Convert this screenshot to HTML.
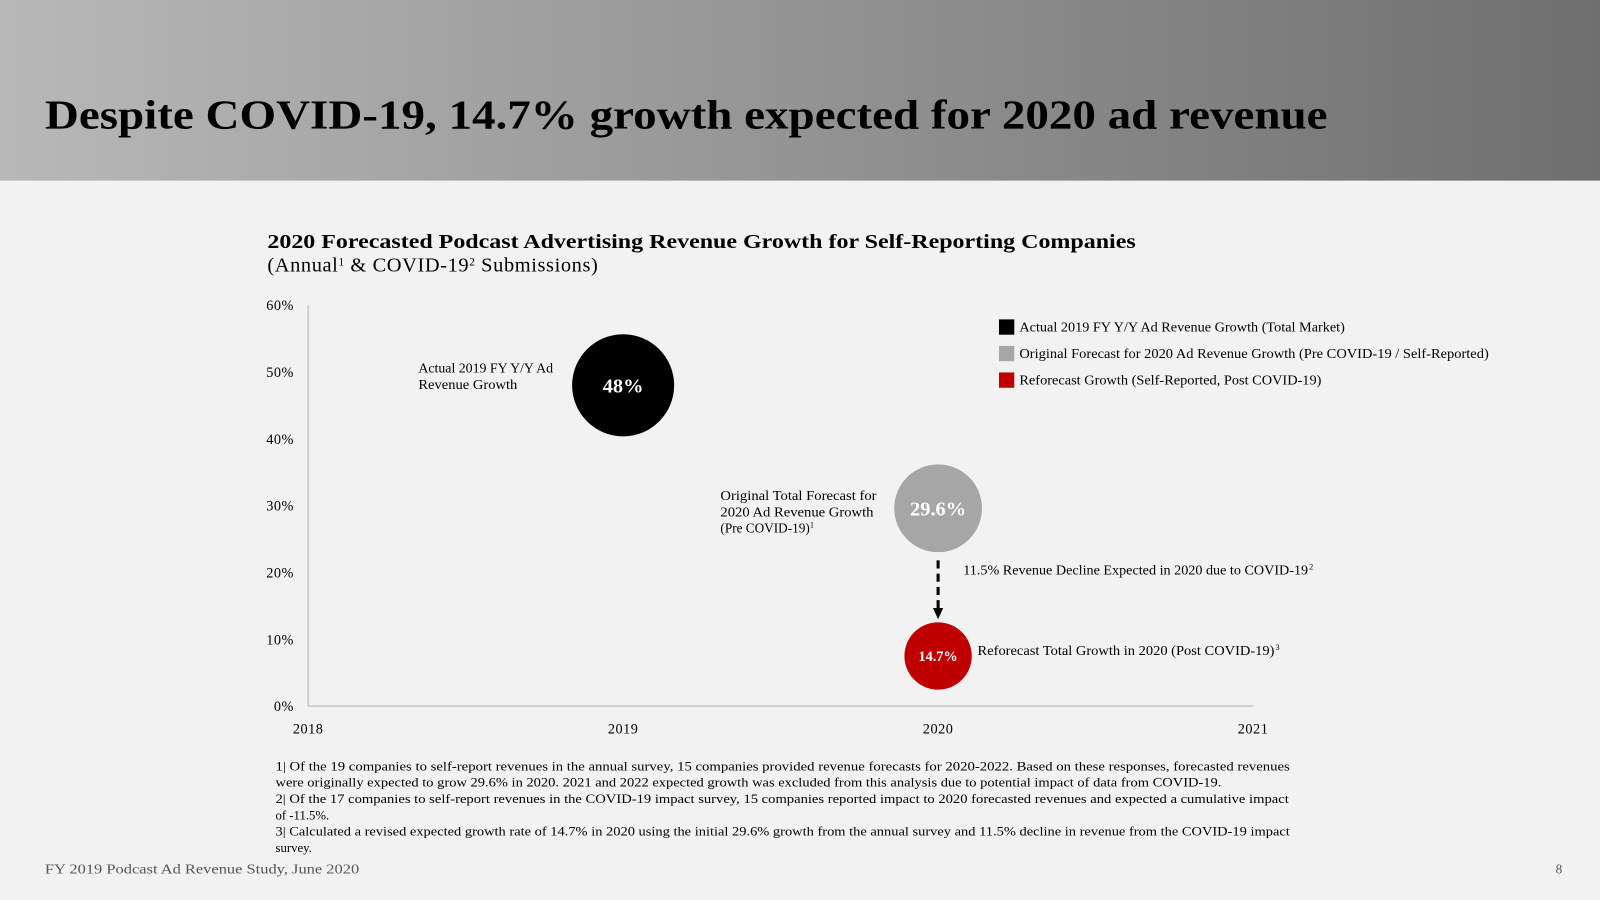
<!DOCTYPE html>
<html><head><meta charset="utf-8"><style>
html,body{margin:0;padding:0;width:1600px;height:900px;overflow:hidden;background:#f2f2f2;}
svg{display:block;font-family:"Liberation Serif",serif;}
</style></head><body>
<svg width="1600" height="900" viewBox="0 0 1568 882" xmlns="http://www.w3.org/2000/svg">
<defs><linearGradient id="hg" x1="0" x2="1" y1="0" y2="0"><stop offset="0" stop-color="#b8b8b8"/><stop offset="1" stop-color="#6f6f6f"/></linearGradient>
<marker id="ah" markerUnits="userSpaceOnUse" markerWidth="12" markerHeight="12" refX="6" refY="6" orient="auto"><path d="M0,1 L11,6 L0,11 z" fill="#000"/></marker></defs>
<rect x="0" y="0" width="1568" height="882" fill="#f2f2f2"/>
<rect x="0" y="0" width="1568" height="177" fill="url(#hg)"/>
<text x="44" y="126" font-size="40" font-weight="bold" fill="#000" textLength="1257" lengthAdjust="spacingAndGlyphs">Despite COVID-19, 14.7% growth expected for 2020 ad revenue</text>
<text x="262" y="243" font-size="20" font-weight="bold" textLength="851" lengthAdjust="spacingAndGlyphs">2020 Forecasted Podcast Advertising Revenue Growth for Self-Reporting Companies</text>
<text x="262" y="266" font-size="20" letter-spacing="0.6">(Annual<tspan font-size="11" dy="-6">1</tspan><tspan dy="6"> &amp; COVID-19</tspan><tspan font-size="11" dy="-6">2</tspan><tspan dy="6"> Submissions)</tspan></text>
<g id="chart"></g>
<g font-size="13">
<rect x="979" y="313" width="15" height="15" fill="#000"/>
<text x="999" y="325" textLength="319" lengthAdjust="spacingAndGlyphs">Actual 2019 FY Y/Y Ad Revenue Growth (Total Market)</text>
<rect x="979" y="339" width="15" height="15" fill="#a6a6a6"/>
<text x="999" y="351" textLength="460" lengthAdjust="spacingAndGlyphs">Original Forecast for 2020 Ad Revenue Growth (Pre COVID-19 / Self-Reported)</text>
<rect x="979" y="365" width="15" height="15" fill="#c00000"/>
<text x="999" y="377" textLength="296" lengthAdjust="spacingAndGlyphs">Reforecast Growth (Self-Reported, Post COVID-19)</text>
</g>
<g font-size="13">
<text x="410" y="365" textLength="132" lengthAdjust="spacingAndGlyphs">Actual 2019 FY Y/Y Ad</text>
<text x="410" y="381" textLength="97" lengthAdjust="spacingAndGlyphs">Revenue Growth</text>
<text x="706" y="490" textLength="153" lengthAdjust="spacingAndGlyphs">Original Total Forecast for</text>
<text x="706" y="506" textLength="150" lengthAdjust="spacingAndGlyphs">2020 Ad Revenue Growth</text>
<text x="706" y="522">(Pre COVID-19)<tspan font-size="8" dy="-5">1</tspan></text>
<text x="944" y="563" textLength="338" lengthAdjust="spacingAndGlyphs">11.5% Revenue Decline Expected in 2020 due to COVID-19</text>
<text x="1283" y="558" font-size="8">2</text>
<text x="958" y="642" textLength="291" lengthAdjust="spacingAndGlyphs">Reforecast Total Growth in 2020 (Post COVID-19)</text>
<text x="1250" y="637" font-size="8">3</text>
</g>
<g font-size="12.5">
<text x="270" y="755" textLength="994" lengthAdjust="spacingAndGlyphs">1| Of the 19 companies to self-report revenues in the annual survey, 15 companies provided revenue forecasts for 2020-2022. Based on these responses,  forecasted revenues</text>
<text x="270" y="771" textLength="927" lengthAdjust="spacingAndGlyphs">were originally expected to grow 29.6% in 2020. 2021 and 2022 expected growth was excluded from this analysis due to potential impact of data from COVID-19.</text>
<text x="270" y="787" textLength="993" lengthAdjust="spacingAndGlyphs">2| Of the 17 companies to self-report revenues in the COVID-19 impact survey, 15 companies reported impact to 2020 forecasted revenues and expected a cumulative impact</text>
<text x="270" y="803">of -11.5%.</text>
<text x="270" y="819" textLength="994" lengthAdjust="spacingAndGlyphs">3| Calculated a revised expected growth rate of 14.7% in 2020 using the initial 29.6% growth from the annual survey and 11.5% decline in revenue from the COVID-19 impact</text>
<text x="270" y="835">survey.</text>
</g>
<text x="44" y="856" font-size="13" fill="#555" textLength="308" lengthAdjust="spacingAndGlyphs">FY 2019 Podcast Ad Revenue Study, June 2020</text>
<text x="1531" y="856" font-size="13" fill="#555" text-anchor="end">8</text>
</svg>
<script>
const yTicks=[0,10,20,30,40,50,60];
const xTicks=[2018,2019,2020,2021];
const bubbleYears=[2019,2020,2020];
const bubbleValues=[48,29.6,7.5];
const bubbleLabels=["48%","29.6%","14.7%"];
const bubbleNames=["bubble-actual-2019","bubble-original-2020","bubble-reforecast-2020"];
const bubbleSizes=[50,43,33];
const bubbleColors=["#000000","#a6a6a6","#c00000"];
const NS="http://www.w3.org/2000/svg";
const g=document.getElementById('chart');
const X0=302,X1=1228,Y0=692,Y1=299;
const xs=v=>X0+(v-2018)/(2021-2018)*(X1-X0);
const ys=v=>Y0-(v/60)*(Y0-Y1);
function mk(t,a,txt){const e=document.createElementNS(NS,t);for(const k in a)e.setAttribute(k,a[k]);if(txt!==undefined)e.textContent=txt;g.appendChild(e);return e;}
let e;
e=mk('line',{x1:X0,y1:Y1,x2:X0,y2:Y0,stroke:'#d0d0d0','stroke-width':2});


e=mk('line',{x1:X0,y1:Y0,x2:X1,y2:Y0,stroke:'#d0d0d0','stroke-width':2});


yTicks.forEach(v=>{e=mk('text',{x:288,y:ys(v)+5,'text-anchor':'end','font-size':14,'letter-spacing':'0.5'},v+'%');

});
xTicks.forEach(v=>{e=mk('text',{x:xs(v),y:719,'text-anchor':'middle','font-size':14,'letter-spacing':'0.5'},String(v));

});
e=mk('line',{x1:xs(bubbleYears[1]),y1:ys(bubbleValues[1])+bubbleSizes[1]+8,x2:xs(bubbleYears[2]),y2:ys(bubbleValues[2])-bubbleSizes[2]-8,stroke:'#000','stroke-width':3,'stroke-dasharray':'8,5','marker-end':'url(#ah)'});


bubbleValues.forEach((v,i)=>{
 e=mk('circle',{cx:xs(bubbleYears[i]),cy:ys(v),r:bubbleSizes[i],fill:bubbleColors[i]});
 
 
 const fs=i==2?14:20;
 e=mk('text',{x:xs(bubbleYears[i]),y:ys(v)+fs*0.35,'text-anchor':'middle','font-size':fs,'font-weight':'bold',fill:'#fff'},bubbleLabels[i]);
 
 
});
</script>
</body></html>
